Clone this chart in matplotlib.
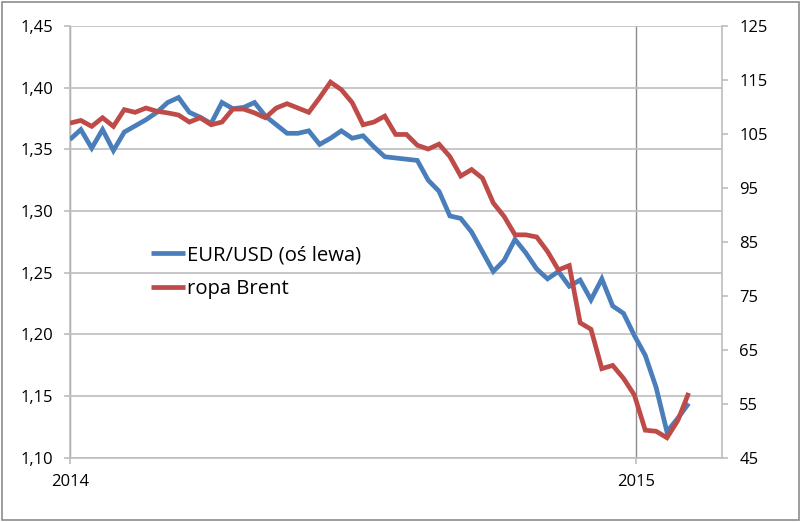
import matplotlib
matplotlib.use("Agg")
import matplotlib.pyplot as plt
from matplotlib.patches import Rectangle
import pandas as pd

plt.rcParams['font.family'] = ['Open Sans', 'DejaVu Sans']

start_date = "2014-01-01"
eurusd = [1.358, 1.366, 1.351, 1.366, 1.349, 1.364, 1.369, 1.374, 1.380, 1.388,
          1.392, 1.380, 1.376, 1.371, 1.388, 1.383, 1.384, 1.388, 1.377, 1.370,
          1.363, 1.363, 1.365, 1.354, 1.359, 1.365, 1.359, 1.361, 1.352, 1.344,
          1.343, 1.342, 1.341, 1.325, 1.316, 1.296, 1.294, 1.283, 1.267, 1.251,
          1.260, 1.277, 1.266, 1.253, 1.245, 1.251, 1.239, 1.244, 1.228, 1.245,
          1.223, 1.217, 1.199, 1.183, 1.157, 1.121, 1.132, 1.144]
brent = [107.0, 107.5, 106.4, 108.0, 106.4, 109.5, 109.0, 109.8, 109.2, 108.9,
         108.5, 107.2, 108.0, 106.7, 107.2, 109.6, 109.6, 108.9, 108.0, 109.8,
         110.6, 109.8, 109.0, 111.7, 114.6, 113.2, 110.8, 106.7, 107.2, 108.3,
         104.9, 104.9, 102.9, 102.2, 103.1, 100.8, 97.2, 98.4, 96.8, 92.2,
         89.7, 86.3, 86.3, 85.9, 83.2, 79.8, 80.6, 70.0, 68.8, 61.5,
         62.1, 59.7, 56.6, 50.1, 49.9, 48.7, 51.9, 57.0]
label_eur = "EUR/USD (oś lewa)"
label_brent = "ropa Brent"
left_ticks = [1.10, 1.15, 1.20, 1.25, 1.30, 1.35, 1.40, 1.45]
right_ticks = [45, 55, 65, 75, 85, 95, 105, 115, 125]
year_ticks = ["2014-01-01", "2015-01-01"]
year_labels = ["2014", "2015"]

dates = pd.date_range(start_date, periods=len(eurusd), freq="7D")

W, H = 800, 522
fig = plt.figure(figsize=(W / 100, H / 100), dpi=100)
L, R, T, B = 70, 722, 26, 457.7
ax = fig.add_axes([L / W, 1 - B / H, (R - L) / W, (B - T) / H])
ax2 = ax.twinx()

blue = "#4A7EBB"
red = "#BE4B48"
grid_c = "#C3C3C3"
axis_c = "#BDBDBD"

l1, = ax.plot(dates, eurusd, color=blue, lw=3.4, solid_capstyle="butt",
              solid_joinstyle="miter", label=label_eur, zorder=3)
l2, = ax2.plot(dates, brent, color=red, lw=3.4, solid_capstyle="butt",
               solid_joinstyle="miter", label=label_brent, zorder=3)

xmin = pd.Timestamp(start_date)
xmax = xmin + pd.Timedelta(days=420.5)
ax.set_xlim(xmin, xmax)
ax.set_ylim(1.10, 1.45)
ax2.set_ylim(45, 125)

ax.set_yticks(left_ticks)
ax.set_yticklabels([f"{v:.2f}".replace(".", ",") for v in left_ticks])
ax2.set_yticks(right_ticks)
ax2.set_yticklabels([str(v) for v in right_ticks])
ax.set_xticks(pd.to_datetime(year_ticks))
ax.set_xticklabels(year_labels)

ax.grid(axis="y", color=grid_c, lw=1.3, zorder=0)
ax.grid(axis="x", color="#8C8C8C", lw=1.0, zorder=0)
ax.set_axisbelow(True)

for a in (ax, ax2):
    for s in a.spines.values():
        s.set_visible(False)
ax.spines["left"].set_visible(True)
ax.spines["left"].set_color(axis_c)
ax.spines["bottom"].set_visible(True)
ax.spines["bottom"].set_color(axis_c)
ax2.spines["right"].set_visible(True)
ax2.spines["right"].set_color(axis_c)
for a in (ax, ax2):
    for s in a.spines.values():
        s.set_linewidth(1.2)

ax.tick_params(axis="y", length=4, width=1.2, color=axis_c, pad=8,
               labelsize=12, labelcolor="#000000")
ax.tick_params(axis="x", length=4, width=1.2, color=axis_c, pad=8,
               labelsize=12, labelcolor="#000000")
ax2.tick_params(axis="y", length=4.5, width=1.2, color=axis_c, pad=8,
                labelsize=12, labelcolor="#000000")

leg = ax2.legend(handles=[l1, l2], loc="upper left",
                 bbox_to_anchor=((150.7 - L) / (R - L), (B - 245) / (B - T)),
                 frameon=False, fontsize=14.6, handlelength=1.7,
                 handletextpad=0.1, labelspacing=0.69, borderpad=0,
                 borderaxespad=0)

fig.patches.append(Rectangle((1.5 / W, 2.5 / H), (W - 3) / W, (H - 4) / H,
                             transform=fig.transFigure, fill=False,
                             edgecolor="#8C8C8C", lw=1.2))

fig.savefig("out.png", dpi=100)
